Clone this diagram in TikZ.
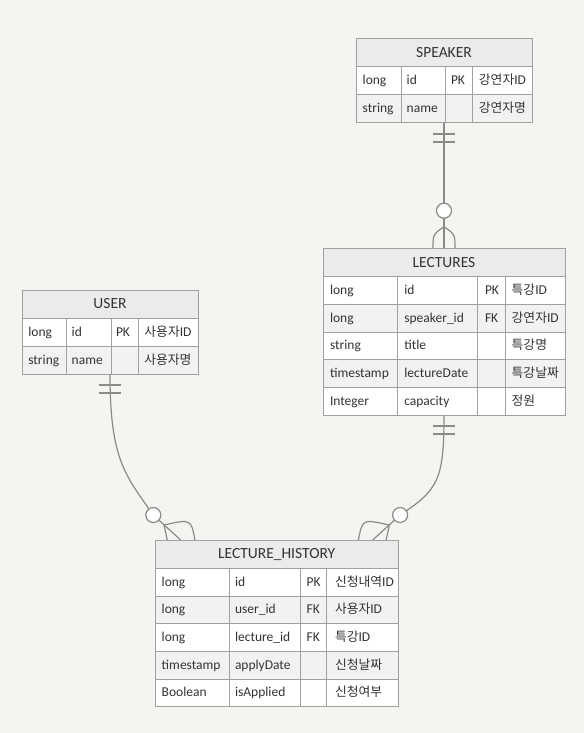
\documentclass[tikz,border=0pt]{standalone}
\usepackage{fontspec}
\setmainfont{Carlito}
\newfontfamily\krfont{Noto Sans CJK KR}
\newcommand{\kr}[1]{{\krfont\fontsize{12.8}{15}\selectfont #1}}
\usetikzlibrary{calc}
\definecolor{bgc}{HTML}{F5F4F0}
\definecolor{hdrc}{HTML}{EBEBEB}
\definecolor{altc}{HTML}{F2F2F2}
\definecolor{bdc}{HTML}{A0A0A0}
\definecolor{lnc}{HTML}{8A8A8A}
\definecolor{txtc}{HTML}{333333}
\tikzset{
  tablebox/.style={inner sep=0pt, outer sep=0pt, draw=none, rectangle},
  gridln/.style={draw=bdc, line width=1pt},
  conn/.style={draw=lnc, line width=1.2pt},
  lbl/.style={inner sep=0pt, outer sep=0pt, font=\fontsize{13.5}{15}\selectfont, text=txtc, text height=10pt, text depth=2pt},
  ttl/.style={lbl, font=\fontsize{15.5}{17}\selectfont, text height=11pt, text depth=2pt},
  ring/.style={circle, draw=lnc, fill=white, line width=1.2pt, minimum size=15pt, inner sep=0pt},
}
% #1 name #2 x1 #3 x2 #4 ytop #5 header h #6 row h #7 rows #8 column xs
\newcommand{\ertable}[8]{%
  \pgfmathsetmacro{\yh}{#4+#5}%
  \pgfmathsetmacro{\yb}{#4+#5+#7*#6}%
  \pgfmathsetmacro{\tw}{#3-#2}%
  \pgfmathsetmacro{\th}{\yb-#4}%
  \fill[hdrc] (#2,#4) rectangle (#3,\yh);
  \foreach \i in {1,...,#7}{%
    \pgfmathsetmacro{\ya}{\yh+(\i-1)*#6}%
    \pgfmathsetmacro{\yc}{\yh+\i*#6}%
    \ifodd\i\relax \fill[white] (#2,\ya) rectangle (#3,\yc); \else \fill[altc] (#2,\ya) rectangle (#3,\yc); \fi
    \draw[gridln] (#2,\ya) -- (#3,\ya);
  }
  \foreach \c in {#8}{\draw[gridln] (\c,\yh) -- (\c,\yb);}
  \draw[gridln] (#2,#4) rectangle (#3,\yb);
  \node[tablebox, minimum width=\tw pt, minimum height=\th pt] (#1) at ({(#2+#3)/2},{(#4+\yb)/2}) {};
}
% #1 name #2 y #3 type #4 field #5 key #6 comment
\newcommand{\errow}[6]{%
  \node[lbl, anchor=west] (#1-a) at (\xa,#2) {#3};
  \node[lbl, anchor=west] (#1-b) at (\xb,#2) {#4};
  \node[lbl, anchor=west] (#1-c) at (\xc,#2) {#5};
  \node[lbl, anchor=\canc] (#1-d) at (\xd,#2) {#6};
}
\begin{document}
\begin{tikzpicture}[x=1pt,y=-1pt]
\fill[bgc] (0,0) rectangle (584,733);
\useasboundingbox (0,0) rectangle (584,733);

% SPEAKER
\ertable{speaker}{356}{532}{39}{28}{28}{2}{401,445.7,472}
\node[ttl] (speaker-title) at (444,53) {SPEAKER};
\def\xa{362.7}\def\xb{406.7}\def\xc{451}\def\xd{526}\def\canc{east}
\errow{speaker-r1}{81}{long}{id}{PK}{\kr{강연자}ID}
\errow{speaker-r2}{109}{string}{name}{}{\kr{강연자명}}

% LECTURES
\ertable{lectures}{323}{565}{248.3}{28.4}{27.66}{5}{397.3,477.3,505}
\node[ttl] (lectures-title) at (444,262.5) {LECTURES};
\def\xa{330}\def\xb{404.3}\def\xc{485}\def\xd{511.7}\def\canc{west}
\errow{lectures-r1}{290.5}{long}{id}{PK}{\kr{특강}ID}
\errow{lectures-r2}{318.2}{long}{speaker\_id}{FK}{\kr{강연자}ID}
\errow{lectures-r3}{345.9}{string}{title}{}{\kr{특강명}}
\errow{lectures-r4}{373.5}{timestamp}{lectureDate}{}{\kr{특강날짜}}
\errow{lectures-r5}{401.2}{Integer}{capacity}{}{\kr{정원}}

% USER
\ertable{user}{22}{198}{290}{28}{28}{2}{66.7,111,138.3}
\node[ttl] (user-title) at (110,304) {USER};
\def\xa{28.3}\def\xb{71.7}\def\xc{116}\def\xd{191.5}\def\canc{east}
\errow{user-r1}{332}{long}{id}{PK}{\kr{사용자}ID}
\errow{user-r2}{360}{string}{name}{}{\kr{사용자명}}

% LECTURE_HISTORY
\ertable{history}{155}{398.4}{540}{28.3}{27.7}{5}{229,300,326.7}
\node[ttl] (history-title) at (276.7,554.2) {LECTURE\_HISTORY};
\def\xa{161.7}\def\xb{235}\def\xc{306.7}\def\xd{335}\def\canc{west}
\errow{history-r1}{582.2}{long}{id}{PK}{\kr{신청내역}ID}
\errow{history-r2}{609.9}{long}{user\_id}{FK}{\kr{사용자}ID}
\errow{history-r3}{637.5}{long}{lecture\_id}{FK}{\kr{특강}ID}
\errow{history-r4}{665.2}{timestamp}{applyDate}{}{\kr{신청날짜}}
\errow{history-r5}{692.9}{Boolean}{isApplied}{}{\kr{신청여부}}

% SPEAKER -- LECTURES
\coordinate (sl-apex) at ($(lectures.north)+(0,-21.5)$);
\coordinate (sl-l) at ($(lectures.north)+(-11,0)$);
\coordinate (sl-r) at ($(lectures.north)+(11,0)$);
\draw[conn] (speaker.south) -- (lectures.north);
\draw[conn] ($(speaker.south)+(-11,11)$) -- ($(speaker.south)+(11,11)$);
\draw[conn] ($(speaker.south)+(-11,19)$) -- ($(speaker.south)+(11,19)$);
\draw[conn] (sl-apex) .. controls ($(sl-l)+(0,-14)$) .. (sl-l);
\draw[conn] (sl-apex) .. controls ($(sl-r)+(0,-14)$) .. (sl-r);
\node[ring] (sl-ring) at ($(lectures.north)+(0,-37.6)$) {};

% USER -- LECTURE_HISTORY
\coordinate (uh-end) at ($(history.north)+(-96,0)$);
\coordinate (uh-c) at ($(uh-end)+(-27.4,-25)$);
\coordinate (uh-a) at ($(uh-c)+(10.7,10)$);
\draw[conn] (user.south) .. controls ($(user.south)+(0,86)$) and ($(uh-c)+(-28,-40)$) .. (uh-c) -- (uh-end);
\draw[conn] ($(user.south)+(-11,11)$) -- ($(user.south)+(11,11)$);
\draw[conn] ($(user.south)+(-11,19)$) -- ($(user.south)+(11,19)$);
\draw[conn] (uh-a) .. controls ($(uh-a)+(1,7)$) .. ($(uh-end)+(-13.4,0)$);
\draw[conn] (uh-a) .. controls ($(uh-a)+(27,-6)$) .. ($(uh-end)+(14.3,0)$);
\node[ring] (uh-ring) at (uh-c) {};

% LECTURES -- LECTURE_HISTORY
\coordinate (lh-end) at ($(history.north)+(96,0)$);
\coordinate (lh-c) at ($(lh-end)+(27.4,-25)$);
\coordinate (lh-a) at ($(lh-c)+(-10.7,10)$);
\draw[conn] (lectures.south) .. controls ($(lectures.south)+(0,65)$) and ($(lh-c)+(38,-25)$) .. (lh-c) -- (lh-end);
\draw[conn] ($(lectures.south)+(-11,11)$) -- ($(lectures.south)+(11,11)$);
\draw[conn] ($(lectures.south)+(-11,19)$) -- ($(lectures.south)+(11,19)$);
\draw[conn] (lh-a) .. controls ($(lh-a)+(-1,7)$) .. ($(lh-end)+(13.4,0)$);
\draw[conn] (lh-a) .. controls ($(lh-a)+(-27,-6)$) .. ($(lh-end)+(-14.3,0)$);
\node[ring] (lh-ring) at (lh-c) {};
\end{tikzpicture}
\end{document}
